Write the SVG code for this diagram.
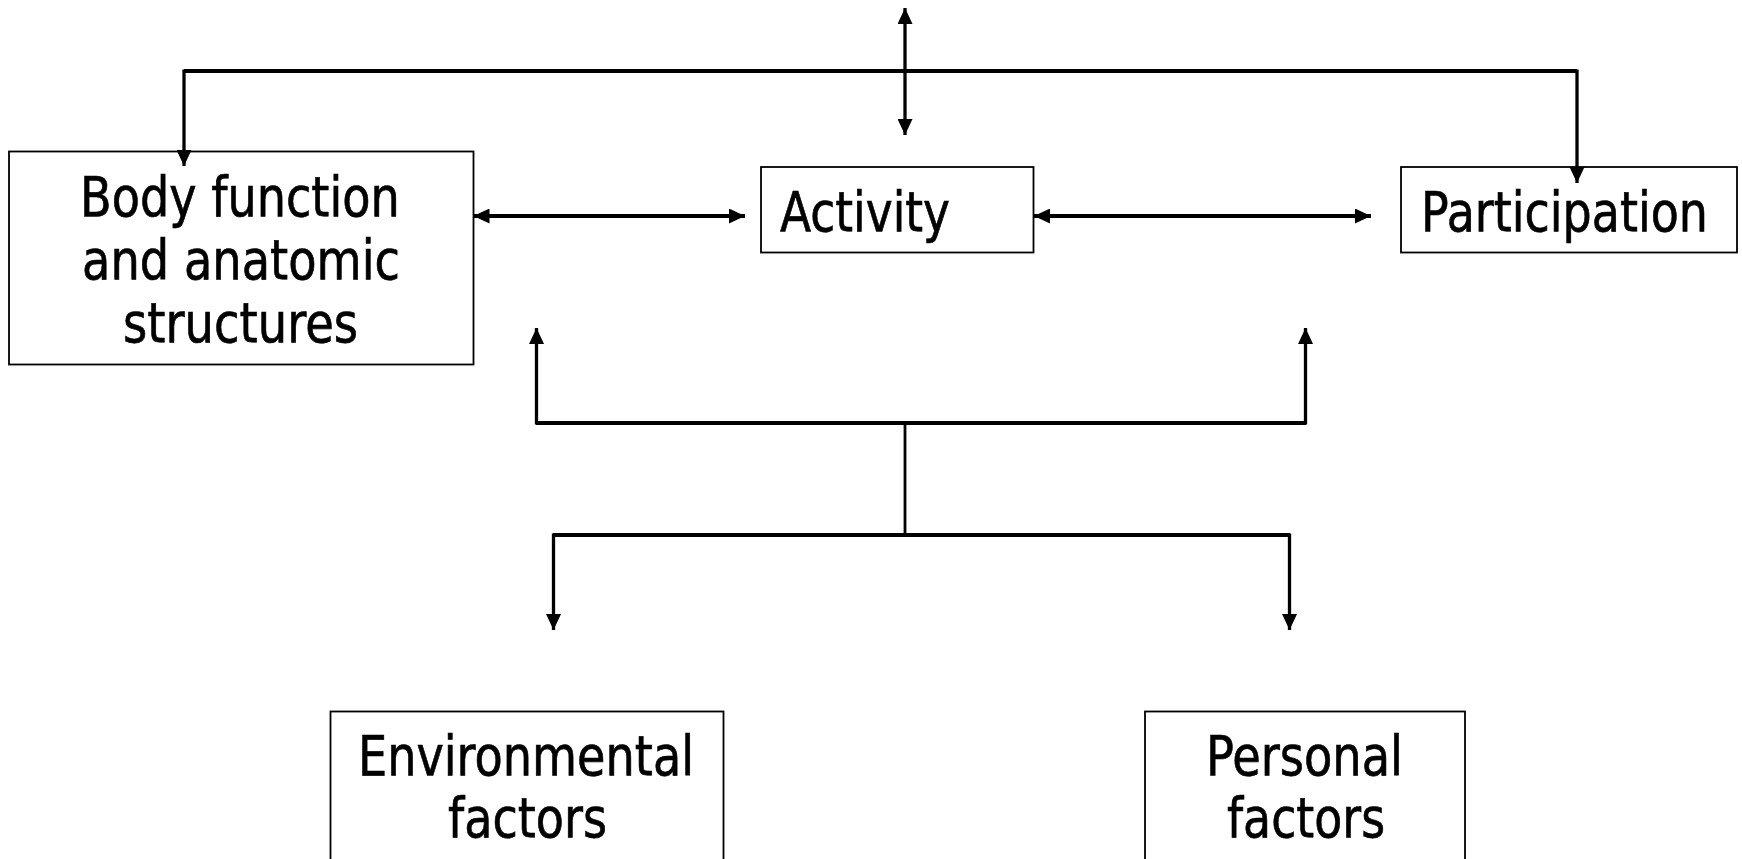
<svg xmlns="http://www.w3.org/2000/svg" width="1742" height="859" viewBox="0 0 1742 859">
<defs>
<style>
.box{fill:#fff;stroke:#000;stroke-width:1.8}
.t{font-family:"DejaVu Sans","Liberation Sans",sans-serif;font-size:55px;fill:#000;stroke:#000;stroke-width:0.7}
.c{fill:none;stroke:#000;stroke-linecap:butt}
.h{stroke-width:4.2}
.v{stroke-width:3.3}
.n{stroke-width:2.8}
</style>
<marker id="ah" viewBox="0 0 16 15" markerUnits="userSpaceOnUse" markerWidth="16" markerHeight="15" refX="16" refY="7.5" orient="auto-start-reverse">
<path d="M0,0 L16,7.5 L0,15 Z" fill="#000"/>
</marker>
</defs>
<rect width="1742" height="859" fill="#fff"/>
<g id="n-body">
<rect class="box" x="9" y="151.5" width="464.5" height="213"/>
<text class="t" transform="translate(80,216) scale(0.82,1)" textLength="390" lengthAdjust="spacingAndGlyphs">Body function</text>
<text class="t" transform="translate(82,279) scale(0.82,1)" textLength="387.8" lengthAdjust="spacingAndGlyphs">and anatomic</text>
<text class="t" transform="translate(123,342) scale(0.82,1)" textLength="286.6" lengthAdjust="spacingAndGlyphs">structures</text>
</g>
<g id="n-activity">
<rect class="box" x="761" y="167" width="272.5" height="85.5"/>
<text class="t" transform="translate(780,231) scale(0.82,1)" textLength="207.3" lengthAdjust="spacingAndGlyphs">Activity</text>
</g>
<g id="n-participation">
<rect class="box" x="1401" y="167" width="336" height="85.5"/>
<text class="t" transform="translate(1421,231) scale(0.82,1)" textLength="350" lengthAdjust="spacingAndGlyphs">Participation</text>
</g>
<g id="n-environmental">
<rect class="box" x="330.5" y="711.5" width="393" height="170"/>
<text class="t" transform="translate(358,775) scale(0.82,1)" textLength="409.8" lengthAdjust="spacingAndGlyphs">Environmental</text>
<text class="t" transform="translate(448,837) scale(0.82,1)" textLength="193.9" lengthAdjust="spacingAndGlyphs">factors</text>
</g>
<g id="n-personal">
<rect class="box" x="1145" y="711.5" width="320" height="170"/>
<text class="t" transform="translate(1206,775) scale(0.82,1)" textLength="240.2" lengthAdjust="spacingAndGlyphs">Personal</text>
<text class="t" transform="translate(1227,837) scale(0.82,1)" textLength="192.7" lengthAdjust="spacingAndGlyphs">factors</text>
</g>
<g id="connectors">
<line class="c v" x1="905" y1="8" x2="905" y2="135" marker-start="url(#ah)" marker-end="url(#ah)"/>
<line class="c h" x1="184" y1="71" x2="1577" y2="71"/>
<line class="c v" x1="184" y1="69.5" x2="184" y2="166" marker-end="url(#ah)"/>
<line class="c v" x1="1577" y1="69.5" x2="1577" y2="183" marker-end="url(#ah)"/>
<line class="c h" x1="473.5" y1="216" x2="745" y2="216" marker-start="url(#ah)" marker-end="url(#ah)"/>
<line class="c h" x1="1034" y1="216" x2="1371" y2="216" marker-start="url(#ah)" marker-end="url(#ah)"/>
<line class="c h" x1="536" y1="423" x2="1306" y2="423"/>
<line class="c v" x1="536.5" y1="424.5" x2="536.5" y2="328" marker-end="url(#ah)"/>
<line class="c v" x1="1305.5" y1="424.5" x2="1305.5" y2="328" marker-end="url(#ah)"/>
<line class="c n" x1="905" y1="423" x2="905" y2="535"/>
<line class="c h" x1="553" y1="535" x2="1290" y2="535"/>
<line class="c v" x1="553.5" y1="533.5" x2="553.5" y2="630" marker-end="url(#ah)"/>
<line class="c v" x1="1289.5" y1="533.5" x2="1289.5" y2="630" marker-end="url(#ah)"/>
</g>
</svg>
